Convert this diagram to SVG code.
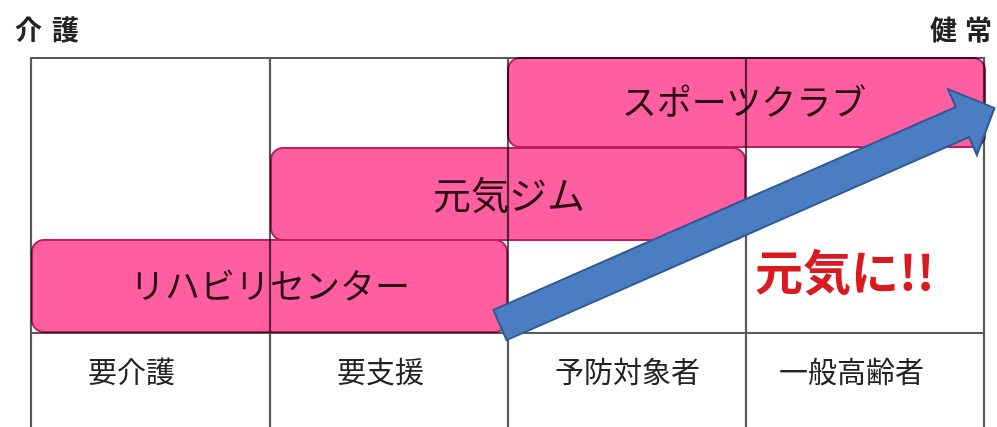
<svg xmlns="http://www.w3.org/2000/svg" width="997" height="427" viewBox="0 0 997 427">
<style>
.jp{font-family:"Noto Sans CJK JP","Noto Sans CJK SC",sans-serif;}
.box{fill:#FF5FA0;stroke:#B8225F;stroke-width:2;}
.boxtxt{fill:#2a0a14;font-size:35px;text-anchor:middle;}
.grid{stroke:#5a5a5a;stroke-width:2.2;fill:none;mix-blend-mode:multiply;}
.cat{fill:#222;font-size:29px;}
.axis{fill:#222;font-size:27px;font-weight:bold;}
</style>
<rect width="997" height="427" fill="#ffffff"/>
<g id="axis-labels">
<text class="jp axis" x="15 52" y="40">介護</text>
<text class="jp axis" x="930 965" y="40">健常</text>
</g>
<g id="sports-club">
<rect class="box" x="508" y="58" width="477" height="89" rx="12"/>
<text class="jp boxtxt" x="744" y="115">スポーツクラブ</text>
</g>
<g id="genki-gym">
<rect class="box" x="271" y="148" width="474" height="92" rx="12"/>
<text class="jp boxtxt" x="509" y="209" style="font-size:38px">元気ジム</text>
</g>
<g id="rehab-center">
<rect class="box" x="32" y="240" width="475" height="92" rx="12"/>
<text class="jp boxtxt" x="270" y="299">リハビリセンター</text>
</g>
<g id="grid">
<path class="grid" d="M31 427V58H984V427M270 58V427M508 58V427M746 58V427M31 333H984"/>
</g>
<g id="categories">
<text class="jp cat" x="88" y="383">要介護</text>
<text class="jp cat" x="337" y="383">要支援</text>
<text class="jp cat" x="555" y="383">予防対象者</text>
<text class="jp cat" x="779" y="383">一般高齢者</text>
</g>
<g id="connectors">
<polygon transform="translate(500,325) rotate(-23.7)" points="0,-16.5 505,-16.5 505,-36 540,0 505,36 505,16.5 0,16.5" fill="#4A7DC2" stroke="#2E5A94" stroke-width="2" stroke-linejoin="miter"/>
</g>
<g id="genki-label">
<text class="jp" x="755" y="290" font-size="48" font-weight="bold" fill="#D81B20">元気に!!</text>
</g>
</svg>
